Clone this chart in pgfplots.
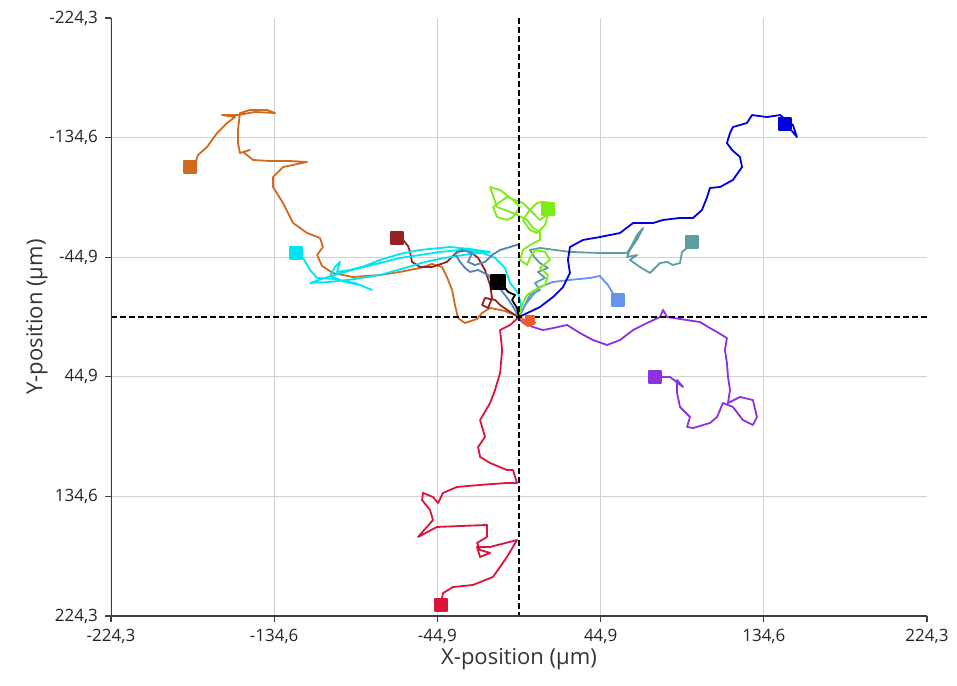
\documentclass[border=0pt]{standalone}
\usepackage{fontspec}
\setmainfont{Open Sans}
\usepackage{pgfplots}
\pgfplotsset{compat=1.18}
\definecolor{tblue}{RGB}{0,0,225}
\definecolor{tpurple}{RGB}{138,50,226}
\definecolor{tred}{RGB}{220,20,60}
\definecolor{torange}{RGB}{210,105,30}
\definecolor{tcyan}{RGB}{0,230,240}
\definecolor{tbrown}{RGB}{150,35,35}
\definecolor{tgreen}{RGB}{125,235,20}
\definecolor{tcadet}{RGB}{95,158,160}
\definecolor{tcorn}{RGB}{100,149,237}
\definecolor{tsteel}{RGB}{80,130,190}
\definecolor{torred}{RGB}{240,90,40}
\begin{document}
\begin{tikzpicture}
\begin{axis}[
  scale only axis, width=408pt, height=299pt,
  xmin=-224.3, xmax=224.3, ymin=-224.3, ymax=224.3,
  y dir=reverse,
  axis line style={draw=none},
  xtick={-134.6,-44.9,44.9,134.6},
  xticklabels={{-134,6},{-44,9},{44,9},{134,6}},
  ytick={-134.6,-44.9,44.9,134.6},
  yticklabels={{-134,6},{-44,9},{44,9},{134,6}},
  extra x ticks={-224.3,224.3}, extra x tick labels={{-224,3},{224,3}},
  extra y ticks={-224.3,224.3}, extra y tick labels={{-224,3},{224,3}},
  extra tick style={grid=none},
  grid=major, grid style={draw=black!18, line width=0.5pt},
  tick align=outside, tick pos=left,
  major tick length=3pt,
  tick style={draw=black!75, line width=0.6pt},
  tick label style={font=\fontsize{8.5}{10}\selectfont, text=black!85},
  xlabel={X-position (µm)}, ylabel={Y-position (µm)},
  label style={font=\fontsize{11}{13}\selectfont, text=black!80},
  xlabel style={yshift=10.5pt},
  ylabel style={yshift=-12pt},
  every axis plot/.append style={line width=0.9pt, line join=round},
]
% red
\addplot[tred] coordinates {(0,0) (-4.9,6.0) (-10.4,9.8) (-9.3,24.8) (-10.4,42.0) (-13.2,54.8) (-15.9,64.5) (-21.4,77.3) (-19.8,84.8) (-18.7,90.0) (-22.5,97.5) (-21.4,105.0) (-15.9,109.5) (-6.6,114.8) (-3.3,114.8) (-1.1,124.5) (-6.6,124.5) (-21.4,126.0) (-34.1,127.5) (-41.8,132.0) (-44.5,139.5) (-47.3,135.0) (-52.8,132.0) (-53.3,137.3) (-48.9,144.8) (-47.3,152.3) (-55.5,165.0) (-45.1,157.5) (-17.6,156.0) (-17.6,165.0) (-23.1,169.5) (-21.4,174.8) (-15.9,177.0) (-21.4,180.0) (-23.1,172.5) (-15.9,172.5) (-1.1,167.3) (-6.6,180.0) (-14.3,195.0) (-25.3,201.0) (-36.3,202.6) (-41.8,207.1) (-42.9,216.1)};
% purple
\addplot[tpurple] coordinates {(0,0) (0.5,2.3) (7.7,7.5) (13.2,9.8) (18.7,8.3) (26.4,6.0) (33.5,12.0) (40.7,17.3) (48.4,21.0) (55.5,17.3) (62.7,9.8) (70.4,4.5) (77.5,0) (79.2,-5.3) (81.4,0) (92.4,2.3) (99.5,3.8) (105.0,8.3) (108.9,11.3) (114.3,15.8) (113.2,24.8) (114.3,34.5) (114.9,45.0) (116.0,54.8) (114.9,64.5) (121.5,60.0) (128.6,62.3) (130.8,75.0) (128.6,81.0) (123.1,77.3) (117.6,67.5) (112.1,64.5) (108.9,75.0) (105.0,79.5) (95.7,83.3) (92.4,82.5) (94.0,75.0) (88.5,67.5) (86.9,57.0) (86.9,47.3) (90.2,52.5) (83.0,45.0) (74.8,45.0)};
% orange
\addplot[torange] coordinates {(0,0) (-7.7,-4.5) (-15.9,-6.8) (-20.3,-3.0) (-23.1,1.5) (-29.7,4.5) (-33.5,0.8) (-35.2,-9.0) (-36.8,-20.3) (-39.6,-30.0) (-42.3,-37.5) (-47.8,-39.8) (-54.4,-36.8) (-65.4,-33.8) (-76.4,-31.5) (-91.3,-30.0) (-102.3,-33.0) (-108.3,-38.3) (-111.0,-46.5) (-107.8,-52.5) (-109.4,-59.3) (-116.5,-63.0) (-124.2,-70.5) (-129.7,-85.5) (-135.2,-97.5) (-135.2,-105.0) (-129.7,-112.5) (-116.5,-116.3) (-125.9,-117.0) (-136.9,-117.0) (-146.2,-117.8) (-151.7,-123.8) (-147.9,-125.3) (-153.4,-123.0) (-154.5,-130.5) (-154.5,-140.3) (-153.4,-153.0) (-147.9,-155.3) (-138.5,-155.3) (-134.1,-153.0) (-145.1,-153.8) (-154.5,-151.5) (-163.3,-151.5) (-156.1,-150.0) (-160.5,-145.5) (-166.0,-138.0) (-171.5,-127.5) (-176.5,-121.5) (-177.6,-117.0) (-180.9,-112.5)};
% brown
\addplot[tbrown] coordinates {(0,0) (-4.9,-3.8) (-10.4,-9.0) (-13.2,-12.8) (-18.7,-14.3) (-20.3,-9.0) (-17.0,-6.8) (-14.8,-14.3) (-15.9,-24.0) (-18.7,-35.3) (-22.5,-44.3) (-28.0,-50.3) (-34.1,-48.8) (-39.6,-41.3) (-47.8,-37.5) (-54.4,-37.5) (-58.8,-41.3) (-59.9,-48.8) (-61.0,-53.3) (-63.8,-57.8) (-67.1,-59.3)};
% cyan
\addplot[tcyan] coordinates {(0,0) (1.1,-9.0) (-0.5,-18.0) (-4.9,-25.5) (-7.7,-36.8) (-13.2,-44.3) (-21.4,-48.8) (-32.4,-50.3) (-43.4,-48.8) (-54.4,-46.5) (-65.4,-44.3) (-76.4,-40.5) (-87.4,-36.8) (-95.7,-33.8) (-106.7,-29.3) (-114.9,-25.5) (-103.9,-26.3) (-90.2,-28.5) (-76.4,-31.5) (-62.7,-36.8) (-51.7,-41.3) (-40.7,-44.3) (-26.9,-47.3) (-15.9,-48.8) (-26.9,-51.0) (-37.9,-52.5) (-54.4,-50.3) (-65.4,-47.3) (-76.4,-42.8) (-84.7,-38.3) (-92.9,-35.3) (-100.1,-33.8) (-98.4,-41.3) (-101.2,-37.5) (-103.9,-30.8) (-95.7,-26.3) (-87.4,-24.0) (-80.8,-20.3) (-90.2,-25.5) (-101.2,-28.5) (-111.0,-29.3) (-114.9,-35.3) (-118.7,-44.3) (-122.6,-48.0)};
% steel blue
\addplot[tsteel] coordinates {(0,0) (-3.8,-9.0) (-7.7,-16.5) (-12.1,-24.0) (-17.0,-31.5) (-22.5,-35.3) (-26.9,-33.8) (-29.7,-36.8) (-32.4,-41.3) (-35.2,-47.3) (-31.3,-50.3) (-25.8,-48.0) (-28.0,-41.3) (-24.2,-39.0) (-18.7,-41.3) (-14.8,-46.5) (-10.4,-50.3) (-4.9,-52.5) (0.5,-54.8)};
% cadet blue
\addplot[tcadet] coordinates {(0,0) (3.3,-9.0) (6.0,-16.5) (11.5,-20.3) (8.8,-25.5) (14.3,-29.3) (10.4,-33.8) (15.9,-36.8) (11.5,-40.5) (8.8,-44.3) (6.0,-50.3) (11.5,-51.8) (28.0,-48.8) (44.5,-48.0) (59.4,-48.0) (62.1,-54.0) (64.9,-61.5) (68.2,-66.8) (65.4,-59.3) (61.0,-50.3) (59.4,-45.0) (64.9,-46.5) (61.0,-42.8) (66.5,-37.5) (72.0,-33.0) (77.5,-40.5) (81.4,-41.3) (84.7,-39.0) (88.5,-40.5) (89.6,-48.8) (92.4,-51.8) (95.1,-56.3)};
% cornflower
\addplot[tcorn] coordinates {(0,0) (3.3,-9.0) (7.7,-16.5) (11.5,-22.5) (18.7,-26.3) (28.0,-27.8) (39.0,-29.3) (44.5,-30.8) (47.3,-26.3) (48.9,-24.0) (51.1,-18.8) (54.4,-12.8)};
% green
\addplot[tgreen] coordinates {(0,0) (1.6,-9.0) (4.4,-16.5) (8.8,-20.3) (14.3,-24.0) (15.9,-31.5) (11.5,-36.8) (17.0,-42.8) (14.3,-48.8) (8.8,-50.3) (6.0,-44.3) (4.4,-39.0) (0.5,-42.8) (2.2,-50.3) (6.0,-54.0) (11.5,-57.8) (11.5,-63.8) (7.7,-66.8) (4.4,-72.8) (-3.3,-78.0) (-12.1,-82.5) (-15.9,-97.5) (-10.4,-95.3) (-3.3,-87.8) (0.5,-82.5) (-3.3,-75.0) (-6.6,-72.8) (-12.1,-75.0) (-14.3,-82.5) (-6.6,-90.0) (2.2,-85.5) (7.7,-78.0) (11.5,-72.8) (17.0,-78.0) (18.7,-85.5) (13.2,-86.3) (9.9,-85.5) (6.0,-80.3) (2.2,-72.8) (6.0,-65.3) (9.9,-63.0) (14.3,-69.0) (15.9,-76.5) (15.9,-81.0)};
% blue
\addplot[tblue] coordinates {(0,0) (11.5,-7.5) (18.7,-15.0) (24.2,-22.5) (28.0,-33.0) (26.9,-42.8) (28.0,-52.5) (35.2,-57.8) (44.5,-60.0) (55.5,-63.0) (62.7,-70.5) (73.7,-70.5) (79.2,-72.8) (88.5,-74.3) (95.7,-74.3) (100.6,-80.3) (103.4,-90.0) (105.0,-96.8) (110.5,-97.5) (117.6,-102.8) (122.6,-112.5) (121.5,-120.0) (117.1,-125.3) (114.3,-130.5) (116.0,-138.0) (117.6,-142.5) (125.3,-145.5) (128.1,-151.5) (136.3,-150.0) (143.5,-151.5) (150.6,-144.0) (152.8,-135.0) (147.3,-144.0) (146.2,-144.8)};
% orange-red
\addplot[torred] coordinates {(0,0) (3.3,2.3) (7.1,0.8) (8.8,4.5) (4.9,6.8) (1.6,3.8) (6.0,2.3)};
% black
\addplot[black] coordinates {(0,0) (-1.1,-6.8) (-3.8,-12.8) (-2.2,-16.5) (-6.0,-18.8) (-7.7,-21.8) (-10.4,-25.5) (-11.5,-26.3)};
% reference lines
\addplot[black, line width=1pt, dash pattern=on 3pt off 1.5pt] coordinates {(0,-224.3) (0,224.3)};
\addplot[black, line width=1pt, dash pattern=on 3pt off 1.5pt] coordinates {(-224.3,0) (224.3,0)};
% end points
\addplot[only marks, mark=square*, mark size=3pt, tred] coordinates {(-42.9,216.1)};
\addplot[only marks, mark=square*, mark size=3pt, tpurple] coordinates {(74.8,45.0)};
\addplot[only marks, mark=square*, mark size=3pt, torange] coordinates {(-180.9,-112.5)};
\addplot[only marks, mark=square*, mark size=3pt, tbrown] coordinates {(-67.1,-59.3)};
\addplot[only marks, mark=square*, mark size=3pt, tcyan] coordinates {(-122.6,-48.0)};
\addplot[only marks, mark=square*, mark size=3pt, tcadet] coordinates {(95.1,-56.3)};
\addplot[only marks, mark=square*, mark size=3pt, tcorn] coordinates {(54.4,-12.8)};
\addplot[only marks, mark=square*, mark size=3pt, tgreen] coordinates {(15.9,-81.0)};
\addplot[only marks, mark=square*, mark size=3pt, tblue] coordinates {(146.2,-144.8)};
\addplot[only marks, mark=square*, mark size=2pt, torred] coordinates {(6.0,2.3)};
\addplot[only marks, mark=square*, mark size=3.5pt, black] coordinates {(-11.5,-26.3)};
% axis lines (left and bottom)
\draw[black!75, line width=1pt] (axis cs:-224.3,-224.3) -- (axis cs:-224.3,224.3) -- (axis cs:224.3,224.3);
\end{axis}
\pgfresetboundingbox
\path ([shift={(-55.5pt,-34.5pt)}]current axis.south west) rectangle ([shift={(15pt,9pt)}]current axis.north east);
\end{tikzpicture}
\end{document}
